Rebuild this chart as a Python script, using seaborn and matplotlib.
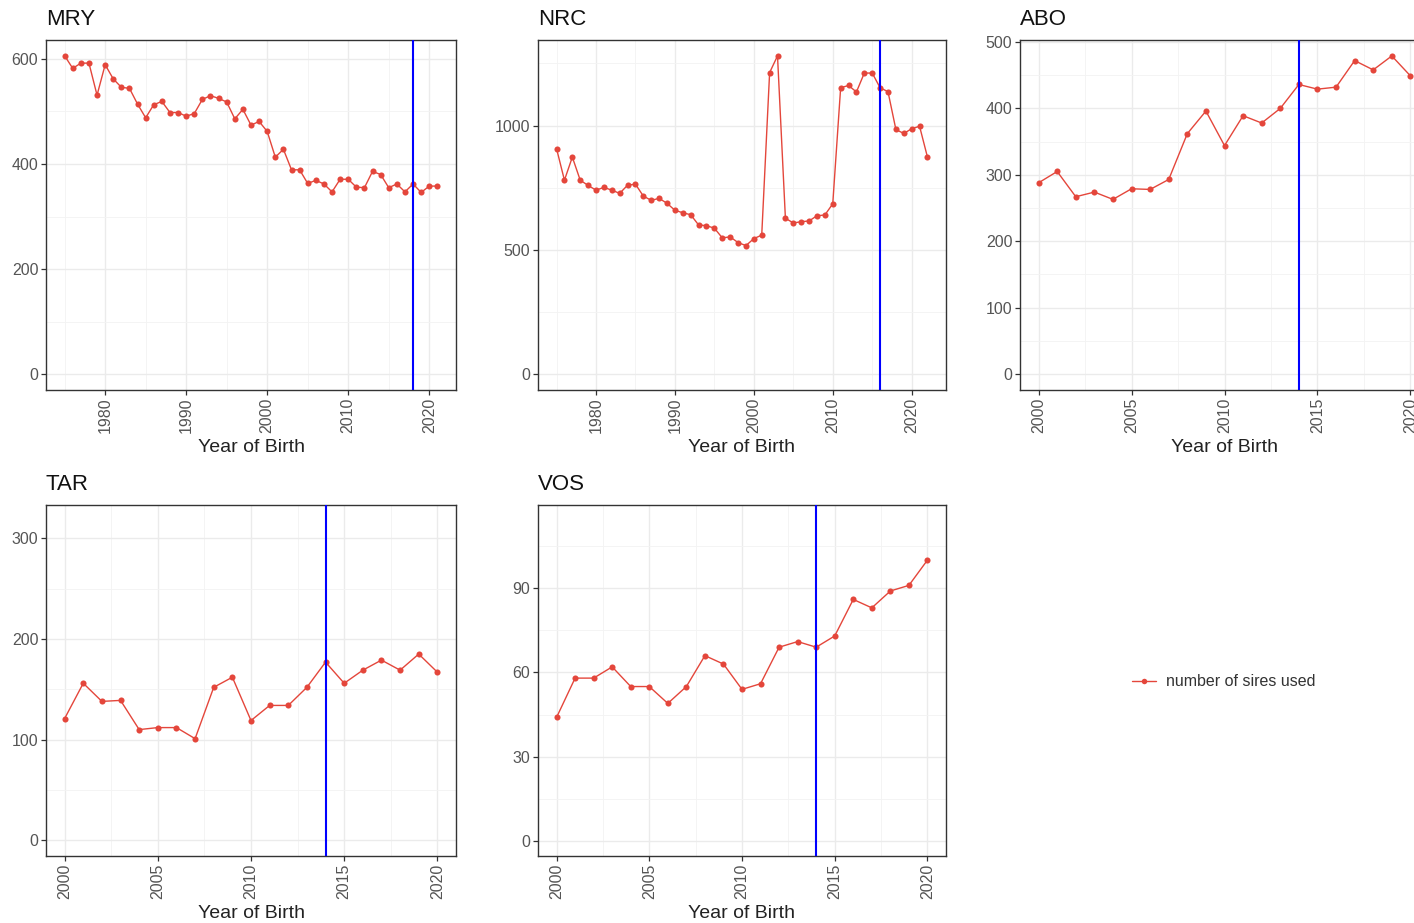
import numpy as np
import pandas as pd
import matplotlib
matplotlib.use("Agg")
import matplotlib.pyplot as plt
from matplotlib.ticker import MultipleLocator
import seaborn as sns

# Number of sires used per year of birth, by breed
mry_years = list(range(1975, 2022))
mry_sires = [606, 582, 592, 592, 531, 589, 562, 546, 544, 514, 488, 513, 519, 498, 498,
             491, 496, 523, 530, 525, 518, 486, 504, 474, 481, 462, 413, 428, 389, 389,
             363, 369, 362, 347, 371, 371, 356, 355, 386, 380, 355, 362, 347, 362, 346,
             358, 358]

nrc_years = list(range(1975, 2023))
nrc_sires = [907, 780, 873, 780, 759, 740, 751, 740, 727, 760, 764, 716, 699, 707, 687,
             659, 649, 641, 600, 597, 587, 548, 552, 529, 517, 545, 559, 1213, 1280, 627,
             608, 613, 616, 637, 640, 685, 1152, 1161, 1135, 1211, 1211, 1152, 1136, 984,
             968, 987, 997, 873]

abo_years = list(range(2000, 2021))
abo_sires = [288, 305, 267, 274, 263, 279, 278, 293, 362, 396, 344, 389, 378, 400, 436,
             429, 432, 472, 458, 479, 449]

tar_years = list(range(2000, 2021))
tar_sires = [121, 156, 138, 139, 110, 112, 112, 101, 152, 162, 119, 134, 134, 152, 177,
             156, 169, 179, 169, 185, 167]

vos_years = list(range(2000, 2021))
vos_sires = [44, 58, 58, 62, 55, 55, 49, 55, 66, 63, 54, 56, 69, 71, 69, 73, 86, 83, 89,
             91, 100]

# Breed, data, reference year, x tick step, y tick step, y limits
panels = [
    ("MRY", mry_years, mry_sires, 2018, 10, 200, (-30, 636)),
    ("NRC", nrc_years, nrc_sires, 2016, 10, 500, (-64, 1344)),
    ("ABO", abo_years, abo_sires, 2014, 5, 100, (-24, 503)),
    ("TAR", tar_years, tar_sires, 2014, 5, 100, (-15.5, 333)),
    ("VOS", vos_years, vos_sires, 2014, 5, 30, (-5.3, 119.6)),
]

sns.set_theme(style="white")
plt.rcParams["font.family"] = ["Liberation Sans", "DejaVu Sans"]

W, H = 1414, 923
fig = plt.figure(figsize=(W / 100, H / 100), dpi=100)
fig.patch.set_facecolor("white")

col_left = [46, 538, 1020]
col_width = [410, 408, 409]
row_top = [40, 505]
row_height = [350, 351]
slots = [(0, 0), (0, 1), (0, 2), (1, 0), (1, 1)]

red = "#E4463B"
label_label = "number of sires used"
handles = None

for (name, years, sires, ref, xstep, ystep, ylim), (r, c) in zip(panels, slots):
    left = col_left[c] / W
    bottom = 1 - (row_top[r] + row_height[r]) / H
    ax = fig.add_axes([left, bottom, col_width[c] / W, row_height[r] / H])
    df = pd.DataFrame({"year": years, "sires": sires})
    sns.lineplot(data=df, x="year", y="sires", ax=ax, color=red, linewidth=1.0,
                 marker="o", markersize=4.4, markeredgewidth=0, label=label_label,
                 zorder=3)
    ax.axvline(ref, color="#0000FF", linewidth=1.5, zorder=4)

    span = years[-1] - years[0]
    ax.set_xlim(years[0] - 0.05 * span, years[-1] + 0.05 * span)
    ax.set_ylim(*ylim)

    first = int(np.ceil(years[0] / xstep) * xstep)
    ax.set_xticks(np.arange(first, years[-1] + 1, xstep))
    ax.xaxis.set_minor_locator(MultipleLocator(xstep / 2))
    ax.yaxis.set_major_locator(MultipleLocator(ystep))
    ax.yaxis.set_minor_locator(MultipleLocator(ystep / 2))

    ax.grid(which="major", color="#EBEBEB", linewidth=1.0, zorder=0)
    ax.grid(which="minor", color="#F3F3F3", linewidth=0.6, zorder=0)
    ax.set_axisbelow(True)
    for s in ax.spines.values():
        s.set_color("#333333")
        s.set_linewidth(1.0)

    ax.tick_params(axis="both", which="major", length=3.5, width=0.9, color="#333333",
                   labelsize=11.5, labelcolor="#555555", pad=2, bottom=True, left=True)
    ax.tick_params(axis="both", which="minor", length=0)
    ax.tick_params(axis="x", labelrotation=90)

    ax.set_xlabel("Year of Birth", fontsize=14, color="#222222", labelpad=4)
    ax.set_ylabel("")
    ax.set_title(name, loc="left", fontsize=16, color="#111111", pad=11)

    if handles is None:
        handles, labels = ax.get_legend_handles_labels()
    if ax.get_legend() is not None:
        ax.get_legend().remove()

fig.legend(handles, labels, loc="center left", bbox_to_anchor=(1118 / W, 1 - 682 / H),
           frameon=False, fontsize=11.5, labelcolor="#333333", handlelength=1.5,
           handletextpad=0.6, markerscale=0.9)

fig.savefig("out.png", dpi=100)
